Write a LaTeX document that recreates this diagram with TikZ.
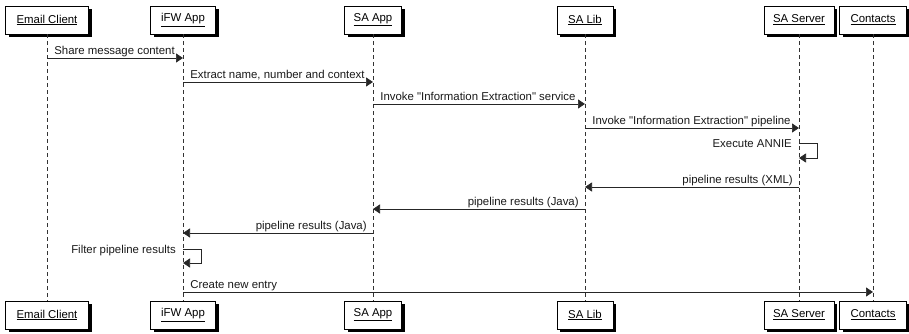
\documentclass[tikz,border=0pt]{standalone}
\usepackage{fontspec}
\setmainfont{Liberation Sans}[Ligatures=TeXOff]
\usetikzlibrary{arrows.meta,shadows}
\begin{document}
\begin{tikzpicture}[x=1pt,y=-1pt,
  font=\fontsize{11.4}{13}\selectfont,
  actor/.style={draw=black, fill=white, line width=0.6pt, minimum height=28pt, inner sep=0pt,
    drop shadow={shadow xshift=3pt, shadow yshift=-3pt, fill=black, opacity=1}},
  life/.style={draw=black!80, dash pattern=on 4pt off 3pt, line width=0.6pt},
  msg/.style={draw=black!85, line width=0.7pt, -{Triangle[length=7pt,width=9pt]}},
  rl/.style={pos=0, anchor=base west, xshift=7pt, yshift=3.5pt, inner sep=0pt, text=black!90},
  ll/.style={pos=0, anchor=base east, xshift=-6pt, yshift=3.5pt, inner sep=0pt, text=black!90},
  sl/.style={anchor=base east, xshift=-7pt, inner sep=0pt, text=black!90}]
\useasboundingbox (0,0) rectangle (909,334);
% top boxes
\node[actor, minimum width=83pt] (ec)  at (47,20)  {\underline{Email Client}};
\node[actor, minimum width=65pt] (ifw) at (183,20) {\underline{iFW App}};
\node[actor, minimum width=57pt] (saa) at (373,20) {\underline{SA App}};
\node[actor, minimum width=56pt] (sal) at (585,20) {\underline{SA Lib}};
\node[actor, minimum width=70pt] (sas) at (799,20) {\underline{SA Server}};
\node[actor, minimum width=67pt] (con) at (873,20) {\underline{Contacts}};
% bottom boxes
\node[actor, minimum width=83pt] (ecb)  at (47,315)  {\underline{Email Client}};
\node[actor, minimum width=65pt] (ifwb) at (183,315) {\underline{iFW App}};
\node[actor, minimum width=57pt] (saab) at (373,315) {\underline{SA App}};
\node[actor, minimum width=56pt] (salb) at (585,315) {\underline{SA Lib}};
\node[actor, minimum width=70pt] (sasb) at (799,315) {\underline{SA Server}};
\node[actor, minimum width=67pt] (conb) at (873,315) {\underline{Contacts}};
% lifelines
\draw[life] (ec.south) -- (ecb.north);
\draw[life] (ifw.south) -- (ifwb.north);
\draw[life] (saa.south) -- (saab.north);
\draw[life] (sal.south) -- (salb.north);
\draw[life] (sas.south) -- (sasb.north);
\draw[life] (con.south) -- (conb.north);
% messages
\draw[msg] (ec |- 0,58) -- (ifw |- 0,58) node[rl] {Share message content};
\draw[msg] (ifw |- 0,82) -- (saa |- 0,82) node[rl] {Extract name, number and context};
\draw[msg] (saa |- 0,104) -- (sal |- 0,104) node[rl] {Invoke "Information Extraction" service};
\draw[msg] (sal |- 0,128) -- (sas |- 0,128) node[rl] {Invoke "Information Extraction" pipeline};
\draw[msg] (sas |- 0,143) -- ++(18,0) -- ++(0,15) -- (sas |- 0,158);
\node[sl] (annie) at (sas |- 0,147) {Execute ANNIE};
\draw[msg] (sas |- 0,187) -- (sal |- 0,187) node[ll] {pipeline results (XML)};
\draw[msg] (sal |- 0,209) -- (saa |- 0,209) node[ll] {pipeline results (Java)};
\draw[msg] (saa |- 0,233) -- (ifw |- 0,233) node[ll] {pipeline results (Java)};
\draw[msg] (ifw |- 0,249) -- ++(18,0) -- ++(0,14) -- (ifw |- 0,263);
\node[sl] (filter) at (ifw |- 0,253) {Filter pipeline results};
\draw[msg] (ifw |- 0,292) -- (con |- 0,292) node[rl] {Create new entry};
\end{tikzpicture}
\end{document}
